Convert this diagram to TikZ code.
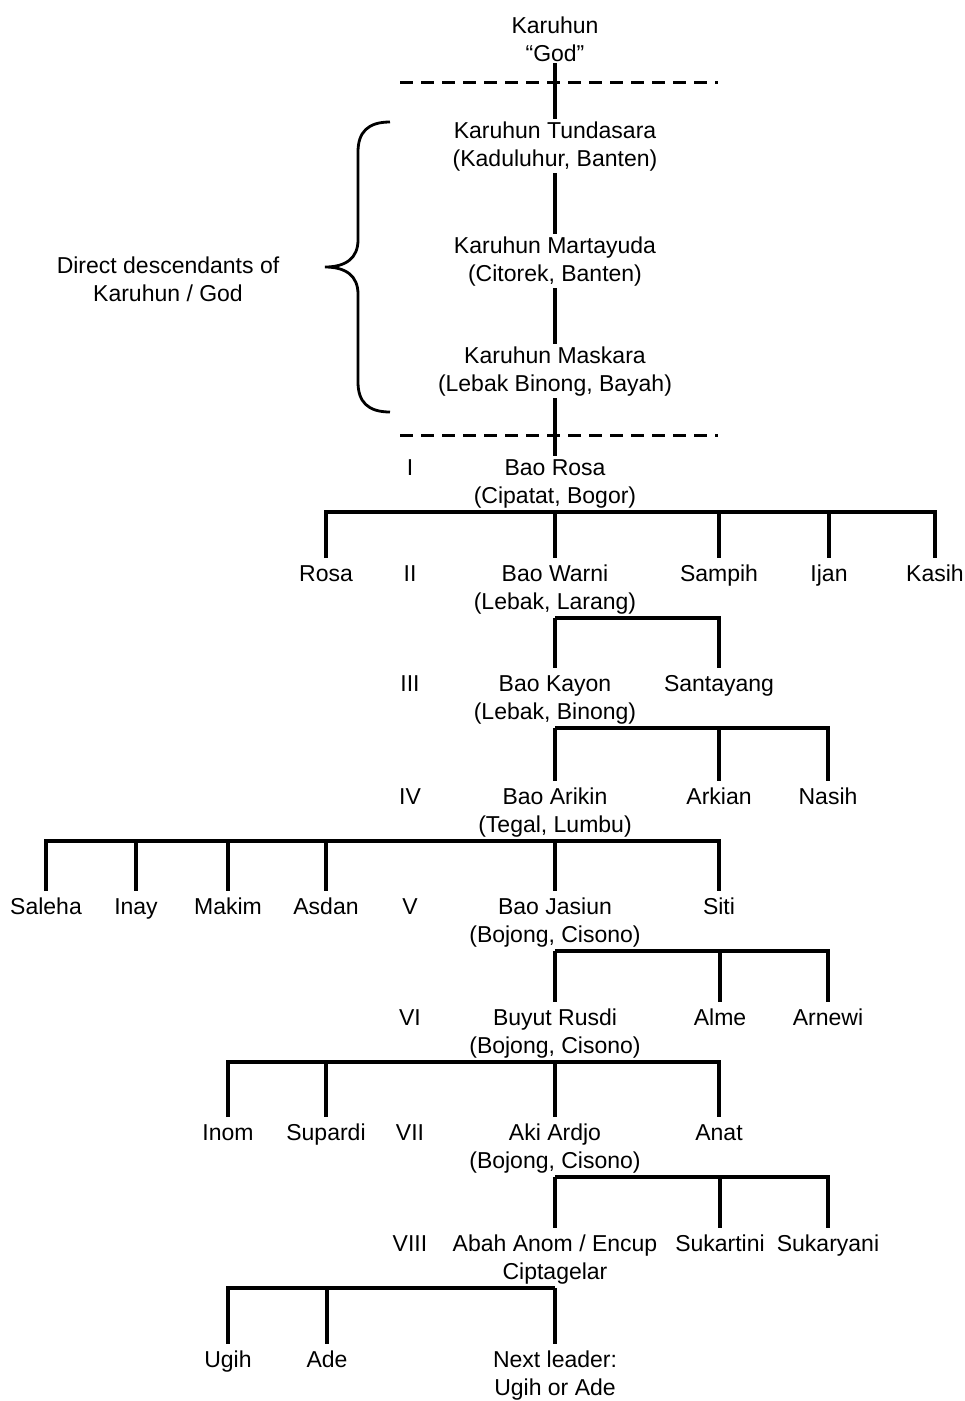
\documentclass[tikz,border=0pt]{standalone}
\usepackage{fontspec}
\setmainfont{Liberation Sans}
\begin{document}
\begin{tikzpicture}[x=1pt,y=-1pt,
  person/.style={anchor=north, inner sep=0pt, outer sep=0pt, align=center,
    font=\fontsize{23}{28}\selectfont},
  conn/.style={line width=3.2pt},
  kid/.style={conn, shorten >=4pt},
  bar/.style={conn, shorten <=4pt, shorten >=4pt},
  dashline/.style={line width=3pt, dash pattern=on 13pt off 8pt},
  bracestyle/.style={line width=2.8pt}]
\useasboundingbox (0,0) rectangle (965,1401);

% top chain
\node[person] (god) at (555,14) {\strut Karuhun\\“God”\strut};
\node[person] (tund) at (555,119) {\strut Karuhun Tundasara\\(Kaduluhur, Banten)\strut};
\node[person] (mart) at (555,234) {\strut Karuhun Martayuda\\(Citorek, Banten)\strut};
\node[person] (mask) at (555,344) {\strut Karuhun Maskara\\(Lebak Binong, Bayah)\strut};
\node[person] (desc) at (168,254) {\strut Direct descendants of\\Karuhun / God\strut};

% generation labels
\node[person] (g1) at (410,456) {\strut I};
\node[person] (g2) at (410,562) {\strut II};
\node[person] (g3) at (410,672) {\strut III};
\node[person] (g4) at (410,785) {\strut IV};
\node[person] (g5) at (410,895) {\strut V};
\node[person] (g6) at (410,1006) {\strut VI};
\node[person] (g7) at (410,1121) {\strut VII};
\node[person] (g8) at (410,1232) {\strut VIII};

% row I
\node[person] (baorosa) at (555,456) {\strut Bao Rosa\\(Cipatat, Bogor)\strut};
% row II
\node[person] (rosa) at (326,562) {\strut Rosa};
\node[person] (warni) at (555,562) {\strut Bao Warni\\(Lebak, Larang)\strut};
\node[person] (sampih) at (719,562) {\strut Sampih};
\node[person] (ijan) at (829,562) {\strut Ijan};
\node[person] (kasih) at (935,562) {\strut Kasih};
% row III
\node[person] (kayon) at (555,672) {\strut Bao Kayon\\(Lebak, Binong)\strut};
\node[person] (santayang) at (719,672) {\strut Santayang};
% row IV
\node[person] (arikin) at (555,785) {\strut Bao Arikin\\(Tegal, Lumbu)\strut};
\node[person] (arkian) at (719,785) {\strut Arkian};
\node[person] (nasih) at (828,785) {\strut Nasih};
% row V
\node[person] (saleha) at (46,895) {\strut Saleha};
\node[person] (inay) at (136,895) {\strut Inay};
\node[person] (makim) at (228,895) {\strut Makim};
\node[person] (asdan) at (326,895) {\strut Asdan};
\node[person] (jasiun) at (555,895) {\strut Bao Jasiun\\(Bojong, Cisono)\strut};
\node[person] (siti) at (719,895) {\strut Siti};
% row VI
\node[person] (rusdi) at (555,1006) {\strut Buyut Rusdi\\(Bojong, Cisono)\strut};
\node[person] (alme) at (720,1006) {\strut Alme};
\node[person] (arnewi) at (828,1006) {\strut Arnewi};
% row VII
\node[person] (inom) at (228,1121) {\strut Inom};
\node[person] (supardi) at (326,1121) {\strut Supardi};
\node[person] (ardjo) at (555,1121) {\strut Aki Ardjo\\(Bojong, Cisono)\strut};
\node[person] (anat) at (719,1121) {\strut Anat};
% row VIII
\node[person] (anom) at (555,1232) {\strut Abah Anom / Encup\\Ciptagelar\strut};
\node[person] (sukartini) at (720,1232) {\strut Sukartini};
\node[person] (sukaryani) at (828,1232) {\strut Sukaryani};
% row IX
\node[person] (ugih) at (228,1348) {\strut Ugih};
\node[person] (ade) at (327,1348) {\strut Ade};
\node[person] (next) at (555,1348) {\strut Next leader:\\Ugih or Ade\strut};

% dashed separators
\coordinate (d1a) at (400,82); \coordinate (d1b) at (718,82);
\coordinate (d2a) at (400,435); \coordinate (d2b) at (718,435);
\draw[dashline] (d1a) -- (d1b);
\draw[dashline] (d2a) -- (d2b);

% top chain connectors
\draw[conn, shorten <=-7pt] (god.south) -- (tund.north);
\draw[conn, shorten <=-2pt] (tund.south) -- (mart.north);
\draw[conn, shorten <=-2pt] (mart.south) -- (mask.north);
\draw[conn, shorten <=-2pt] (mask.south) -- (baorosa.north);

% brace
\draw[bracestyle] (390,122) .. controls (368,122) and (358,132) .. (358,152)
  -- (358,240) .. controls (358,258) and (346,267) .. (325,267)
  .. controls (346,267) and (358,276) .. (358,294)
  -- (358,382) .. controls (358,402) and (368,412) .. (390,412);

% family Bao Rosa
\draw[bar] (rosa.north) -- (rosa.north |- baorosa.south) -- (kasih.north |- baorosa.south) -- (kasih.north);
\draw[kid] (baorosa.south) -- (warni.north);
\foreach \c in {sampih,ijan} \draw[kid] (\c.north |- baorosa.south) -- (\c.north);

% family Bao Warni
\draw[kid] (warni.south) -- (kayon.north);
\draw[kid] (warni.south) -| (santayang.north);

% family Bao Kayon
\draw[kid] (kayon.south) -- (arikin.north);
\draw[kid] (kayon.south) -| (nasih.north);
\draw[kid] (arkian.north |- kayon.south) -- (arkian.north);

% family Bao Arikin
\draw[bar] (saleha.north) -- (saleha.north |- arikin.south) -- (siti.north |- arikin.south) -- (siti.north);
\draw[kid] (arikin.south) -- (jasiun.north);
\foreach \c in {inay,makim,asdan} \draw[kid] (\c.north |- arikin.south) -- (\c.north);

% family Bao Jasiun
\draw[kid] (jasiun.south) -- (rusdi.north);
\draw[kid] (jasiun.south) -| (arnewi.north);
\draw[kid] (alme.north |- jasiun.south) -- (alme.north);

% family Buyut Rusdi
\draw[bar] (inom.north) -- (inom.north |- rusdi.south) -- (anat.north |- rusdi.south) -- (anat.north);
\draw[kid] (rusdi.south) -- (ardjo.north);
\draw[kid] (supardi.north |- rusdi.south) -- (supardi.north);

% family Aki Ardjo
\draw[kid] (ardjo.south) -- (anom.north);
\draw[kid] (ardjo.south) -| (sukaryani.north);
\draw[kid] (sukartini.north |- ardjo.south) -- (sukartini.north);

% family Abah Anom
\draw[kid] (anom.south) -- (next.north);
\draw[kid] (anom.south) -| (ugih.north);
\draw[kid] (ade.north |- anom.south) -- (ade.north);
\end{tikzpicture}
\end{document}
